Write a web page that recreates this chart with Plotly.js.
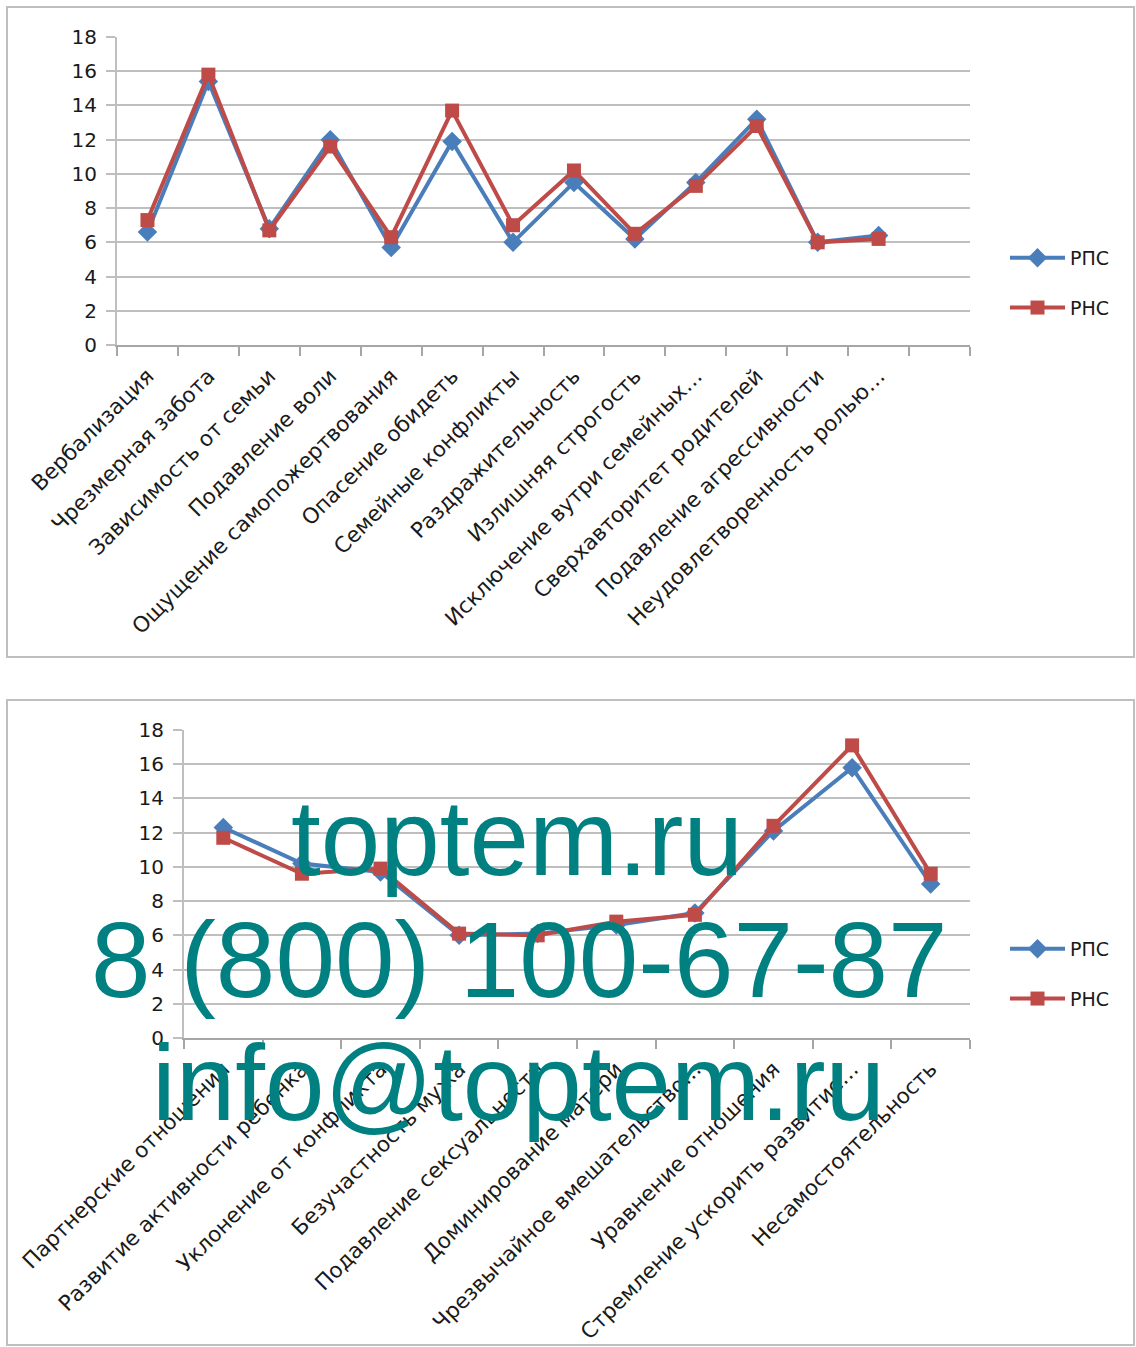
<!DOCTYPE html>
<html>
<head>
<meta charset="utf-8">
<script src="https://cdn.plot.ly/plotly-3.0.1.min.js"></script>
<style>html,body{margin:0;padding:0;background:#fff}#chart{width:1136px;height:1347px}</style>
</head>
<body>
<div id="chart"></div>
<script>
const topCategories = ["Вербализация", "Чрезмерная забота", "Зависимость от семьи", "Подавление воли", "Ощущение самопожертвования", "Опасение обидеть", "Семейные конфликты", "Раздражительность", "Излишняя строгость", "Исключение вутри семейных…", "Сверхавторитет родителей", "Подавление агрессивности", "Неудовлетворенность ролью…"];
const topRPS = [6.6, 15.4, 6.8, 12.0, 5.7, 11.9, 6.0, 9.5, 6.2, 9.5, 13.2, 6.0, 6.4];
const topRNS = [7.3, 15.8, 6.7, 11.6, 6.3, 13.7, 7.0, 10.2, 6.5, 9.3, 12.8, 6.0, 6.2];
const topSlots = 14;

const bottomCategories = ["Партнерские отношения", "Развитие активности ребенка", "Уклонение от конфликта", "Безучастность мужа", "Подавление сексуальности", "Доминирование матери", "Чрезвычайное вмешательство…", "Уравнение отношения", "Стремление ускорить развитие…", "Несамостоятельность"];
const bottomRPS = [12.3, 10.2, 9.7, 6.0, 6.1, 6.6, 7.3, 12.1, 15.8, 9.0];
const bottomRNS = [11.7, 9.6, 9.9, 6.1, 6.0, 6.8, 7.2, 12.4, 17.1, 9.6];
const bottomSlots = 10;

const seriesNames = ["РПС", "РНС"];
const watermark = ["toptem.ru", "8 (800) 100-67-87", "info@toptem.ru"];

const W = 1136, H = 1347;
const px = v => v / W, py = v => 1 - v / H;
const BLUE = "#4A7EBB", RED = "#BE4B48";
const FONT = "DejaVu Sans";

function mkTraces(cats, a, b, xa, ya, leg) {
  const x = cats.map((_, i) => i);
  return [
    {x: x, y: a, name: seriesNames[0], type: "scatter", mode: "lines+markers", xaxis: xa, yaxis: ya, legend: leg, legendgroup: leg + "a",
     line: {color: BLUE, width: 4}, marker: {symbol: "diamond", size: 15, color: BLUE}},
    {x: x, y: b, name: seriesNames[1], type: "scatter", mode: "lines+markers", xaxis: xa, yaxis: ya, legend: leg, legendgroup: leg + "b",
     line: {color: RED, width: 4}, marker: {symbol: "square", size: 14, color: RED}}
  ];
}

function xAxis(cats, slots, domain, anchor) {
  return {
    domain: domain, anchor: anchor, range: [-0.5, slots - 0.5], fixedrange: true,
    tickmode: "array", tickvals: cats.map((_, i) => i), ticktext: cats, tickangle: -45,
    ticks: "", showgrid: false, zeroline: false, showline: true, linecolor: "#a6a6a6", linewidth: 2,
    tickfont: {family: FONT, size: 21.5, color: "#1a1a1a"}, ticklabelstandoff: 8,
    minor: {tick0: -0.5, dtick: 1, ticks: "outside", ticklen: 9, tickcolor: "#a6a6a6", tickwidth: 2, showgrid: false}
  };
}
function yAxis(domain, anchor) {
  return {
    domain: domain, anchor: anchor, range: [0, 18], dtick: 2, tick0: 0, fixedrange: true,
    ticks: "outside", ticklen: 9, tickcolor: "#bfbfbf", tickwidth: 2,
    showgrid: true, gridcolor: "#bfbfbf", gridwidth: 2, zeroline: false,
    showline: true, linecolor: "#bfbfbf", linewidth: 2,
    tickfont: {family: FONT, size: 20, color: "#1a1a1a"}, ticklabelstandoff: 5
  };
}

const data = [].concat(
  mkTraces(topCategories, topRPS, topRNS, "x", "y", "legend"),
  mkTraces(bottomCategories, bottomRPS, bottomRNS, "x2", "y2", "legend2")
);

const legendBase = {
  xanchor: "left", yanchor: "middle", bgcolor: "rgba(0,0,0,0)",
  font: {family: FONT, size: 19, color: "#1a1a1a"}, traceorder: "grouped", tracegroupgap: 22, itemwidth: 55
};

const layout = {
  width: W, height: H, margin: {l: 0, r: 0, t: 0, b: 0},
  paper_bgcolor: "#fff", plot_bgcolor: "#fff", showlegend: true,
  xaxis: xAxis(topCategories, topSlots, [px(117), px(970)], "y"),
  yaxis: yAxis([py(345), py(37)], "x"),
  xaxis2: xAxis(bottomCategories, bottomSlots, [px(184), px(970)], "y2"),
  yaxis2: yAxis([py(1038), py(730)], "x2"),
  legend: Object.assign({x: px(1005), y: py(283)}, legendBase),
  legend2: Object.assign({x: px(1005), y: py(974)}, legendBase),
  shapes: [
    {type: "rect", xref: "paper", yref: "paper", x0: px(7), x1: px(1134), y0: py(657), y1: py(7), line: {color: "#bfbfbf", width: 2}, layer: "below"},
    {type: "rect", xref: "paper", yref: "paper", x0: px(7), x1: px(1134), y0: py(1345), y1: py(700), line: {color: "#bfbfbf", width: 2}, layer: "below"}
  ],
  annotations: [
    {text: watermark[0], xref: "paper", yref: "paper", x: px(517), y: py(838), showarrow: false, xanchor: "center", yanchor: "middle", font: {family: "Liberation Sans", size: 107, color: "#008080"}},
    {text: watermark[1], xref: "paper", yref: "paper", x: px(519), y: py(960), showarrow: false, xanchor: "center", yanchor: "middle", font: {family: "Liberation Sans", size: 107, color: "#008080"}},
    {text: watermark[2], xref: "paper", yref: "paper", x: px(518), y: py(1083), showarrow: false, xanchor: "center", yanchor: "middle", font: {family: "Liberation Sans", size: 107, color: "#008080"}}
  ]
};

Plotly.newPlot("chart", data, layout, {staticPlot: true, displayModeBar: false});
</script>
</body>
</html>
